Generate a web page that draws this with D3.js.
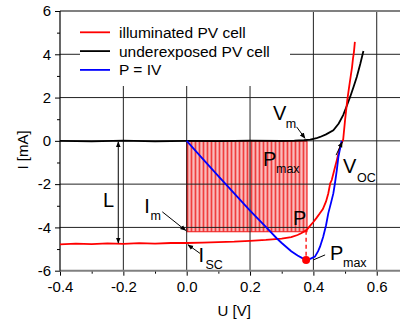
<!DOCTYPE html>
<html><head><meta charset="utf-8">
<script src="https://cdn.jsdelivr.net/npm/d3@7"></script>
<style>body{margin:0;background:#fff} svg{display:block;font-family:"Liberation Sans",Arial,sans-serif}</style>
</head><body><svg id="c" width="400" height="327"></svg>
<script>
// ---- data ----
const illumU = [-0.4,-0.35,-0.3,-0.25,-0.2,-0.15,-0.1,-0.05,0,0.05,0.1,0.15,0.2,0.25,0.3,0.33,0.35,0.36,0.37,0.38,0.39,0.40,0.41,0.42,0.43,0.44,0.447,0.453,0.458,0.466,0.474,0.482,0.489,0.494,0.5,0.507,0.512,0.518,0.522,0.525,0.528,0.531];
const illumI = [-4.78,-4.75,-4.77,-4.74,-4.76,-4.73,-4.75,-4.72,-4.72,-4.7,-4.68,-4.66,-4.62,-4.58,-4.52,-4.45,-4.35,-4.28,-4.2,-4.1,-3.92,-3.75,-3.56,-3.36,-3.15,-2.8,-2.43,-1.97,-1.81,-1.35,-0.89,-0.4,-0.1,0.05,0.96,1.88,2.4,3.0,3.4,3.8,4.1,4.57];
const darkU = [-0.4,-0.3,-0.2,-0.1,0,0.1,0.2,0.3,0.34,0.37,0.39,0.41,0.421,0.44,0.463,0.48,0.494,0.505,0.516,0.527,0.537,0.548,0.558];
const darkI = [0.0,-0.02,0.01,-0.02,0.0,-0.01,0.01,0.0,0.01,0.03,0.06,0.12,0.18,0.3,0.49,0.8,1.19,1.6,2.03,2.5,2.95,3.55,4.15];
const powerU = [0,0.05,0.1,0.15,0.2,0.25,0.284,0.3,0.33,0.35,0.365,0.378,0.39,0.405,0.415,0.421,0.431,0.44,0.447,0.455,0.463,0.468,0.474,0.479,0.485,0.489];
const powerP = [0,-0.82,-1.63,-2.43,-3.22,-3.98,-4.5,-4.72,-5.1,-5.3,-5.42,-5.5,-5.45,-5.35,-5.1,-4.89,-4.43,-3.9,-3.35,-2.9,-2.43,-1.97,-1.35,-0.74,-0.3,0];
const rectU = [0, 0.38];
const rectI = [0, -4.2];
const pmaxU = 0.377, pmaxP = -5.5;
const xTicks = [-0.4,-0.2,0,0.2,0.4,0.6];
const xMinor = [-0.3,-0.1,0.1,0.3,0.5];
const yTicks = [-6,-4,-2,0,2,4,6];
const yMinor = [-5,-3,-1,1,3,5];
const legendLabels = ["illuminated PV cell","underexposed PV cell","P = IV"];
const colors = ["#ff0000","#000000","#0000ff"];

// ---- scales ----
const svg = d3.select("#c");
const x = d3.scaleLinear().domain([-0.4,0.7]).range([60,408.4]);
const y = d3.scaleLinear().domain([-6,6]).range([270.7,11]);

const defs = svg.append("defs");
const pat = defs.append("pattern").attr("id","hatch").attr("patternUnits","userSpaceOnUse")
  .attr("x",x(0)).attr("y",0).attr("width",4).attr("height",8);
pat.append("rect").attr("width",4).attr("height",8).attr("fill","#f9bcbc");
pat.append("line").attr("x1",0.7).attr("x2",0.7).attr("y1",0).attr("y2",8).attr("stroke","#ee2020").attr("stroke-width",1.4);
const mk = defs.append("marker").attr("id","ah").attr("viewBox","0 0 10 10").attr("refX",9).attr("refY",5)
  .attr("markerWidth",6).attr("markerHeight",6).attr("orient","auto-start-reverse").attr("markerUnits","userSpaceOnUse");
mk.append("path").attr("d","M0,1L10,5L0,9Z").attr("fill","#000");

// hatched rectangle (P_max area)
svg.append("rect").attr("x",x(rectU[0])).attr("y",y(rectI[0]))
  .attr("width",x(rectU[1])-x(rectU[0])).attr("height",y(rectI[1])-y(rectI[0]))
  .attr("fill","url(#hatch)").attr("stroke","#f01818").attr("stroke-width",1);
svg.append("line").attr("x1",x(rectU[0])).attr("x2",x(rectU[1])).attr("y1",y(0)).attr("y2",y(0))
  .attr("stroke","#a00000").attr("stroke-width",1.5);

// grid
const grid = svg.append("g").attr("stroke","#222").attr("stroke-width",1);
xTicks.filter(d=>d>-0.4).forEach(d=>grid.append("line").attr("x1",x(d)).attr("x2",x(d)).attr("y1",y(6)).attr("y2",y(-6)));
yTicks.filter(d=>d>-6&&d<6).forEach(d=>grid.append("line").attr("x1",x(-0.4)).attr("x2",400).attr("y1",y(d)).attr("y2",y(d)));

// legend background hides grid
svg.append("rect").attr("x",80).attr("y",12).attr("width",210).attr("height",74).attr("fill","#fff");

// axes
const fx = d => d.toFixed(1);
const gx = svg.append("g").attr("transform",`translate(0,${y(-6)})`)
  .call(d3.axisBottom(x).tickValues(xTicks).tickSize(5).tickPadding(6).tickFormat(fx));
gx.select(".domain").remove();
gx.selectAll("text").attr("font-size",15).attr("font-family","Liberation Sans, Arial, sans-serif").attr("fill","#000");
const gxm = svg.append("g").attr("transform",`translate(0,${y(-6)})`)
  .call(d3.axisBottom(x).tickValues(xMinor).tickSize(3).tickFormat(""));
gxm.select(".domain").remove();
const gy = svg.append("g").attr("transform",`translate(${x(-0.4)},0)`)
  .call(d3.axisLeft(y).tickValues(yTicks).tickSize(5).tickPadding(4).tickFormat(d=>String(d)));
gy.select(".domain").remove();
gy.selectAll("text").attr("font-size",15).attr("font-family","Liberation Sans, Arial, sans-serif").attr("fill","#000");
const gym = svg.append("g").attr("transform",`translate(${x(-0.4)},0)`)
  .call(d3.axisLeft(y).tickValues(yMinor).tickSize(3).tickFormat(""));
gym.select(".domain").remove();
svg.append("line").attr("x1",x(-0.4)).attr("x2",400).attr("y1",y(6)).attr("y2",y(6)).attr("stroke","#808080").attr("stroke-width",2.2);
svg.append("line").attr("x1",x(-0.4)).attr("x2",400).attr("y1",y(-6)).attr("y2",y(-6)).attr("stroke","#808080").attr("stroke-width",2);
svg.append("line").attr("x1",x(-0.4)).attr("x2",x(-0.4)).attr("y1",y(6)).attr("y2",y(-6)).attr("stroke","#000").attr("stroke-width",1.2);

// axis titles
svg.append("text").attr("x",x(0.15)).attr("y",316).attr("text-anchor","middle").attr("font-size",15).text("U [V]");
svg.append("text").attr("transform",`translate(28,150) rotate(-90)`).attr("text-anchor","middle").attr("font-size",15).text("I [mA]");

// curves
const line = d3.line().x(d=>x(d[0])).y(d=>y(d[1]));
const series = [d3.zip(illumU,illumI), d3.zip(darkU,darkI), d3.zip(powerU,powerP)];
svg.append("path").datum(series[1]).attr("d",line).attr("fill","none").attr("stroke",colors[1]).attr("stroke-width",1.8);
svg.append("path").datum(series[0]).attr("d",line).attr("fill","none").attr("stroke",colors[0]).attr("stroke-width",1.8);
svg.append("path").datum(series[2]).attr("d",line).attr("fill","none").attr("stroke",colors[2]).attr("stroke-width",1.8);

// Pmax marker and dashed line
const imAtPmax = -4.15;
svg.append("line").attr("x1",x(pmaxU)).attr("x2",x(pmaxU)).attr("y1",y(imAtPmax)).attr("y2",y(pmaxP)).attr("stroke","#ff0000").attr("stroke-width",1.3).attr("stroke-dasharray","4,3");
svg.append("circle").attr("cx",x(pmaxU)).attr("cy",y(pmaxP)).attr("r",4).attr("fill","#ff0000");

// legend
legendLabels.forEach((t,i)=>{
  const ly = 32.3 + i*18.8;
  svg.append("line").attr("x1",80).attr("x2",110).attr("y1",ly).attr("y2",ly).attr("stroke",colors[i]).attr("stroke-width",1.8);
  svg.append("text").attr("x",119).attr("y",ly+5.5).attr("font-size",15.5).text(t);
});

// annotations (positions in data units)
function lab(u,i,t,fs){ svg.append("text").attr("x",x(u)).attr("y",y(i)).attr("font-size",fs).attr("fill","#000").text(t); }
function arrow(u1,i1,u2,i2,both){
  const l = svg.append("line").attr("x1",x(u1)).attr("y1",y(i1)).attr("x2",x(u2)).attr("y2",y(i2))
    .attr("stroke","#000").attr("stroke-width",1).attr("marker-end","url(#ah)");
  if(both) l.attr("marker-start","url(#ah)");
}
const big = 20, sub = 12.5;
arrow(-0.216,-0.05,-0.216,-4.72,true);
lab(-0.264,-3.06,"L",big);
lab(-0.134,-3.34,"I",big); lab(-0.114,-3.66,"m",sub);
arrow(-0.077,-3.28,-0.003,-4.14,false);
lab(0.037,-5.6,"I",big); lab(0.059,-5.92,"SC",sub);
arrow(0.042,-5.2,0.004,-4.8,false);
lab(0.2725,0.955,"V",big); lab(0.313,0.586,"m",sub);
arrow(0.347,0.646,0.3735,0.12,false);
lab(0.241,-1.167,"P",big); lab(0.282,-1.49,"max",sub);
lab(0.4935,-1.49,"V",big); lab(0.5377,-1.89,"OC",sub);
arrow(0.4716,-0.66,0.4913,-0.05,false);
lab(0.3357,-3.89,"P",big);
lab(0.4526,-5.5,"P",big); lab(0.4935,-5.83,"max",sub);
svg.append("line").attr("x1",x(0.437)).attr("y1",y(-5.27)).attr("x2",x(0.40)).attr("y2",y(-5.5)).attr("stroke","#000").attr("stroke-width",1);
</script></body></html>
